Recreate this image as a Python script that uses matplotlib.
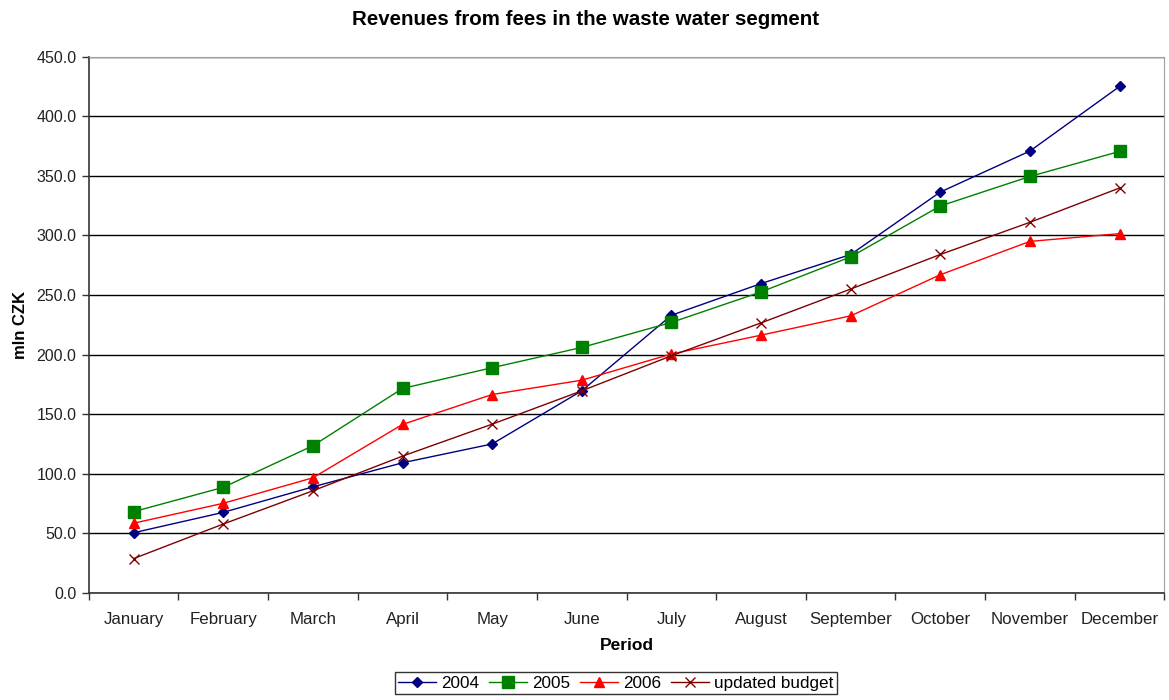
import matplotlib
matplotlib.use("Agg")
import matplotlib.pyplot as plt

plt.rcParams['font.family'] = ['Liberation Sans', 'DejaVu Sans']

months = ['January', 'February', 'March', 'April', 'May', 'June', 'July',
          'August', 'September', 'October', 'November', 'December']
rev_2004 = [50.5, 67.6, 89.0, 109.2, 125.0, 169.6, 233.0, 259.6, 284.0, 336.4, 370.8, 425.0]
rev_2005 = [68.2, 88.6, 123.5, 171.6, 189.0, 206.0, 227.0, 252.6, 282.0, 324.7, 349.5, 370.5]
rev_2006 = [58.5, 75.2, 96.6, 141.4, 166.5, 178.5, 200.5, 216.3, 232.5, 267.0, 295.0, 301.5]
budget = [28.8, 57.8, 85.7, 114.8, 141.6, 169.6, 199.0, 226.6, 255.0, 284.0, 311.0, 339.8]

fig = plt.figure(figsize=(11.69, 7.0), dpi=100)
ax = fig.add_axes([0.076, 0.153, 0.92, 0.766])

x = list(range(len(months)))
ax.plot(x, rev_2004, color='#000080', marker='D', markersize=5, linewidth=1, label='2004')
ax.plot(x, rev_2005, color='#008000', marker='s', markersize=8, linewidth=1, label='2005')
ax.plot(x, rev_2006, color='#FF0000', marker='^', markersize=7.5, linewidth=1, label='2006')
ax.plot(x, budget, color='#800000', marker='x', markersize=7, markeredgewidth=1, linewidth=1,
        label='updated budget')

ax.set_xlim(-0.5, 11.5)
ax.set_ylim(0, 450)
ax.set_yticks(range(0, 451, 50))
ax.set_yticklabels([f'{v:.1f}' for v in range(0, 451, 50)], fontsize=11.5, color='#222222')
ax.set_xticks(x)
ax.set_xticklabels(months, fontsize=12.2, color='#222222')
ax.set_xticks([i - 0.5 for i in range(13)], minor=True)
ax.tick_params(axis='x', which='major', length=0, pad=14)
ax.tick_params(axis='x', which='minor', length=5, width=1, color='#333333')
ax.tick_params(axis='y', length=5, width=1, color='#333333', pad=4)

ax.yaxis.grid(True, color='black', linewidth=1)
ax.set_axisbelow(True)
for s in ['top', 'right']:
    ax.spines[s].set_color('#a0a0a0')
for s in ['left', 'bottom']:
    ax.spines[s].set_color('#333333')
    ax.spines[s].set_linewidth(1.2)

# title sits centred on the figure, not on the plot area
ax.set_title('Revenues from fees in the waste water segment', fontsize=14.8,
             fontweight='bold', pad=23, x=0.462)
ax.set_ylabel('mln CZK', fontsize=12, fontweight='bold', labelpad=6)
ax.set_xlabel('Period', fontsize=12.5, fontweight='bold', labelpad=8)

leg = ax.legend(loc='upper center', bbox_to_anchor=(0.49, -0.148), ncol=4, fontsize=12.3,
                frameon=True, fancybox=False, edgecolor='black', handlelength=2.2,
                handletextpad=0.3, columnspacing=0.6, borderpad=0.2, borderaxespad=0)
leg.get_frame().set_linewidth(1)

fig.savefig('out.png', dpi=100)
